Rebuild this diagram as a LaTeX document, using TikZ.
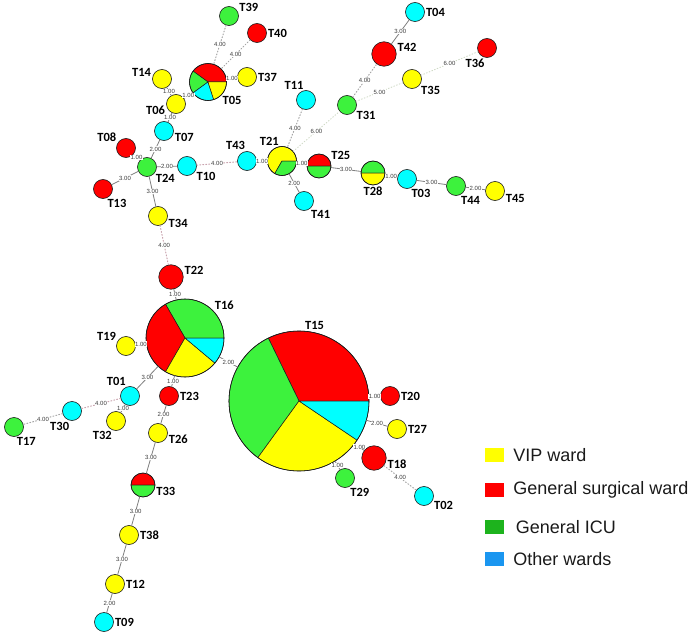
\documentclass[tikz,border=0pt]{standalone}
\usepackage{fontspec}
\setsansfont{Carlito}
\newfontfamily\keyfont{Liberation Sans}
\usepackage{tikz}
\usetikzlibrary{positioning}
\definecolor{mstRed}{HTML}{FF0000}
\definecolor{mstYellow}{HTML}{FFFF00}
\definecolor{mstGreen}{HTML}{3DF23D}
\definecolor{mstCyan}{HTML}{00FFFF}
\definecolor{mstKeyGreen}{HTML}{1DB31D}
\definecolor{mstKeyBlue}{HTML}{1A96F0}
\definecolor{mstInk}{HTML}{1A1A1A}
\definecolor{mstLine}{HTML}{7F7F7F}
\definecolor{mstDot}{HTML}{A6A6A6}
\definecolor{mstPink}{HTML}{C9A3AE}
\definecolor{mstFaint}{HTML}{CFDAC6}
\definecolor{mstMuted}{HTML}{3C3C3C}
\tikzset{
  mst diagram/.style={font=\sffamily, line cap=round, line join=round},
  mst node/.style={circle, draw=mstInk, line width=0.6pt, inner sep=0pt,
    minimum size=19pt, label distance=1pt},
  mst mid/.style={mst node, minimum size=24.5pt},
  mst pie/.style={mst node, fill=none},
  vip/.style={fill=mstYellow},
  surg/.style={fill=mstRed},
  icu/.style={fill=mstGreen},
  other/.style={fill=mstCyan},
  mst tag/.style={font=\sffamily\bfseries\fontsize{12.5}{14}\selectfont,
    text=black, inner sep=1pt},
  mst link/.style={draw=mstLine, line width=0.8pt},
  mst far/.style={draw=mstDot, line width=1pt, dotted},
  mst far pink/.style={mst far, draw=mstPink},
  mst faint/.style={draw=mstFaint, line width=0.9pt, dotted},
  mst weight/.style={font=\keyfont\fontsize{6}{7}\selectfont, text=mstMuted,
    fill=white, inner sep=0.4pt},
  mst key/.style={minimum width=19pt, minimum height=14pt, inner sep=0pt},
  mst key text/.style={font=\keyfont\fontsize{18}{20}\selectfont,
    text=mstInk, inner sep=0pt}
}
% pie node: name, position, radius (pt), slices from/to/colour, tag angle
\newcommand{\mstpie}[5]{%
  \foreach \from/\to/\col in {#4}
    \filldraw[draw=mstInk, line width=0.5pt, fill=\col] #2 -- ++(\from:#3pt)
      arc[start angle=\from, end angle=\to, radius=#3pt] -- cycle;
  \node[mst pie, minimum size=2*#3pt, label={[mst tag]#5:#1}] (#1) at #2 {};
}

\begin{document}
\begin{tikzpicture}[mst diagram,x=1pt,y=-1pt]
\useasboundingbox (0,0) rectangle (697,642);
% upper branch
\node[mst node, icu, label={[mst tag]19:T39}] (T39) at (229,16) {};
\node[mst node, surg, label={[mst tag]0:T40}] (T40) at (257,33) {};
\mstpie{T05}{(208,82)}{18.5}{0/144/mstRed,144/216/mstGreen,216/288/mstCyan,288/360/mstYellow}{-44}
\node[mst node, vip, label={[mst tag]0:T37}] (T37) at (247,77) {};
\node[mst node, vip, label={[mst tag]173:T14}] (T14) at (162,79) {};
\node[mst node, vip, label={[mst tag]185:T06}] (T06) at (176,104) {};
\node[mst node, other, label={[mst tag]-9:T07}] (T07) at (164,131) {};
\node[mst node, surg, label={[mst tag]150:T08}] (T08) at (126,148) {};
\node[mst node, icu, label={[mst tag]-38:T24}] (T24) at (147,167) {};
\node[mst node, other, label={[mst tag]-30:T10}] (T10) at (187,166) {};
\node[mst node, surg, label={[mst tag]-70:T13}] (T13) at (103,189) {};
\node[mst node, vip, label={[mst tag]-13:T34}] (T34) at (158,216) {};
\node[mst mid, surg, label={[mst tag]5:T22}] (T22) at (171,277) {};
\node[mst node, other, label={[mst tag]95:T43}] (T43) at (247,161) {};
\mstpie{T21}{(282,161)}{14.5}{0/240/mstYellow,240/360/mstGreen}{98}
\node[mst node, other, label={[mst tag]-52:T41}] (T41) at (304,201) {};
\node[mst node, other, label={[mst tag]98:T11}] (T11) at (306,100) {};
\node[mst node, icu, label={[mst tag]-31:T31}] (T31) at (347,105) {};
\node[mst mid, surg, label={[mst tag]7:T42}] (T42) at (384,54) {};
\node[mst node, other, label={[mst tag]0:T04}] (T04) at (415,12) {};
\node[mst node, vip, label={[mst tag]-35:T35}] (T35) at (412,79) {};
\node[mst node, surg, label={[mst tag]-98:T36}] (T36) at (487,48) {};
\mstpie{T25}{(319,166)}{12}{0/180/mstRed,180/360/mstGreen}{25}
\mstpie{T28}{(373,173)}{12}{0/180/mstGreen,180/360/mstYellow}{-90}
\node[mst node, other, label={[mst tag]-70:T03}] (T03) at (407,179) {};
\node[mst node, icu, label={[mst tag]-66:T44}] (T44) at (456,186) {};
\node[mst node, vip, label={[mst tag]-10:T45}] (T45) at (495,191) {};
% lower branch
\mstpie{T16}{(185,338)}{39}{0/120/mstGreen,120/240/mstRed,240/320/mstYellow,320/360/mstCyan}{43}
\node[mst node, vip, label={[mst tag]153:T19}] (T19) at (126,346) {};
\node[mst node, other, label={[mst tag]108:T01}] (T01) at (130,396) {};
\node[mst node, surg, label={[mst tag]0:T23}] (T23) at (169,396) {};
\node[mst node, other, label={[mst tag]-100:T30}] (T30) at (72,411) {};
\node[mst node, icu, label={[mst tag]-80:T17}] (T17) at (14,427) {};
\node[mst node, vip, label={[mst tag]-108:T32}] (T32) at (116,421) {};
\node[mst node, vip, label={[mst tag]-5:T26}] (T26) at (158,433) {};
\mstpie{T33}{(143,485)}{12}{0/180/mstRed,180/360/mstGreen}{-4}
\node[mst node, vip, label={[mst tag]0:T38}] (T38) at (129,535) {};
\node[mst node, vip, label={[mst tag]0:T12}] (T12) at (115,584) {};
\node[mst node, other, label={[mst tag]0:T09}] (T09) at (104,622) {};
\mstpie{T15}{(299,401)}{70}{0/116/mstRed,116/234/mstGreen,234/326/mstYellow,326/360/mstCyan}{86}
\node[mst node, surg, label={[mst tag]0:T20}] (T20) at (390,396) {};
\node[mst node, vip, label={[mst tag]0:T27}] (T27) at (397,429) {};
\node[mst mid, surg, label={[mst tag]-5:T18}] (T18) at (374,458) {};
\node[mst node, icu, label={[mst tag]-65:T29}] (T29) at (345,478) {};
\node[mst node, other, label={[mst tag]-25:T02}] (T02) at (424,496) {};
% links
\draw[mst far] (T39) -- node[mst weight]{4.00} (T05);
\draw[mst far] (T40) -- node[mst weight]{4.00} (T05);
\draw[mst link] (T05) -- node[mst weight]{1.00} (T37);
\draw[mst link] (T14) -- node[mst weight]{1.00} (T06);
\draw[mst link] (T06) -- node[mst weight]{1.00} (T05);
\draw[mst link] (T06) -- node[mst weight]{1.00} (T07);
\draw[mst link] (T07) -- node[mst weight]{2.00} (T24);
\draw[mst link] (T08) -- node[mst weight]{1.00} (T24);
\draw[mst link] (T24) -- node[mst weight]{2.00} (T10);
\draw[mst link] (T13) -- node[mst weight]{3.00} (T24);
\draw[mst link] (T24) -- node[mst weight]{3.00} (T34);
\draw[mst far pink] (T10) -- node[mst weight]{4.00} (T43);
\draw[mst link] (T43) -- node[mst weight]{1.00} (T21);
\draw[mst link] (T21) -- node[mst weight]{2.00} (T41);
\draw[mst link] (T21) -- node[mst weight]{1.00} (T25);
\draw[mst far] (T11) -- node[mst weight]{4.00} (T21);
\draw[mst faint] (T21) -- node[mst weight]{6.00} (T31);
\draw[mst far] (T31) -- node[mst weight]{4.00} (T42);
\draw[mst link] (T42) -- node[mst weight]{3.00} (T04);
\draw[mst faint] (T31) -- node[mst weight]{5.00} (T35);
\draw[mst faint] (T35) -- node[mst weight]{6.00} (T36);
\draw[mst link] (T25) -- node[mst weight]{3.00} (T28);
\draw[mst link] (T28) -- node[mst weight]{1.00} (T03);
\draw[mst link] (T03) -- node[mst weight]{3.00} (T44);
\draw[mst link] (T44) -- node[mst weight]{2.00} (T45);
\draw[mst far pink] (T34) -- node[mst weight]{4.00} (T22);
\draw[mst link] (T22) -- node[mst weight]{1.00} (T16);
\draw[mst link] (T19) -- node[mst weight]{1.00} (T16);
\draw[mst link] (T16) -- node[mst weight]{3.00} (T01);
\draw[mst link] (T16) -- node[mst weight]{1.00} (T23);
\draw[mst link] (T16) -- node[mst weight]{2.00} (T15);
\draw[mst far pink] (T01) -- node[mst weight]{4.00} (T30);
\draw[mst far] (T30) -- node[mst weight]{4.00} (T17);
\draw[mst link] (T01) -- node[mst weight]{1.00} (T32);
\draw[mst link] (T23) -- node[mst weight]{2.00} (T26);
\draw[mst link] (T26) -- node[mst weight]{3.00} (T33);
\draw[mst link] (T33) -- node[mst weight]{3.00} (T38);
\draw[mst link] (T38) -- node[mst weight]{3.00} (T12);
\draw[mst link] (T12) -- node[mst weight]{2.00} (T09);
\draw[mst link] (T15) -- node[mst weight]{1.00} (T20);
\draw[mst link] (T15) -- node[mst weight]{2.00} (T27);
\draw[mst link] (T15) -- node[mst weight]{1.00} (T18);
\draw[mst link] (T15) -- node[mst weight]{1.00} (T29);
\draw[mst far] (T18) -- node[mst weight]{4.00} (T02);
% key
\node[mst key, fill=mstYellow] (key vip) at (494,455) {};
\node[mst key text, right=9.5pt of key vip] (key vip text) {VIP ward};
\node[mst key, fill=mstRed] (key surg) at (494,490) {};
\node[mst key text, right=9.5pt of key surg] (key surg text) {General surgical ward};
\node[mst key, fill=mstKeyGreen] (key icu) at (494,527) {};
\node[mst key text, right=12pt of key icu] (key icu text) {General ICU};
\node[mst key, fill=mstKeyBlue] (key other) at (494,559) {};
\node[mst key text, right=9.5pt of key other] (key other text) {Other wards};
\end{tikzpicture}
\end{document}
